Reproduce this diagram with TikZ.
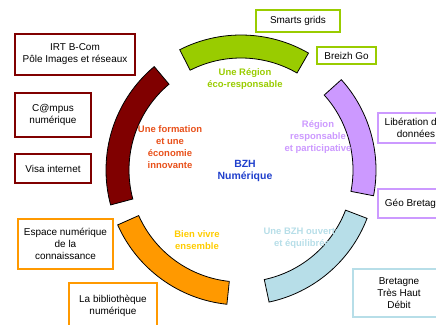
\documentclass[tikz,border=0pt]{standalone}
\usepackage{fontspec}
\setmainfont{Liberation Sans}
\usetikzlibrary{positioning}
\definecolor{bzhmaroon}{HTML}{800000}
\definecolor{bzhgreen}{HTML}{99CC00}
\definecolor{bzhpurple}{HTML}{CC99FF}
\definecolor{bzhteal}{HTML}{B7DEE8}
\definecolor{bzhorange}{HTML}{FF9900}
\definecolor{bzhred}{HTML}{E8501A}
\definecolor{bzhgold}{HTML}{FFCC00}
\definecolor{bzhblue}{HTML}{1F3FCC}
\newcommand\ringpart[2]{% start angle, end angle
  (#1:\outr) arc[start angle=#1, end angle=#2, radius=\outr]
  -- (#2:\inr) arc[start angle=#2, end angle=#1, radius=\inr] -- cycle
}

\begin{document}
\begin{tikzpicture}[x=1bp, y=1bp, font=\fontsize{10}{12}\selectfont]
  \tikzset{box/.style={draw=#1, line width=1.6bp, fill=white, align=center, inner sep=2bp}}
  \tikzset{theme/.style={text=#1, align=center, font=\fontsize{9.5}{12}\selectfont\bfseries}}
  \tikzset{part/.style={draw=black, line width=0.8bp, fill=#1}}

  \clip (0,0) rectangle (436,324);
  \def\outr{135}
  \def\inr{112}

  \coordinate (c) at (241,154);
  \begin{scope}[shift={(c)}]
    \draw[part=bzhgreen] \ringpart{60}{117};
    \draw[part=bzhmaroon] \ringpart{130}{195};
    \draw[part=bzhorange] \ringpart{204}{264};
    \draw[part=bzhteal] \ringpart{282}{339};
    \draw[part=bzhpurple] \ringpart{-11}{42};
  \end{scope}

  \node[text=bzhblue, align=center, font=\fontsize{10.5}{13}\selectfont\bfseries] (bzh) at (245,153) {BZH\\Numérique};
  \node[theme=bzhgreen] (eco) at (245,245) {Une Région\\éco-responsable};
  \node[theme=bzhpurple] (partic) at (318,187) {Région\\responsable\\et participative};
  \node[theme=bzhred] (formation) at (170,177) {Une formation\\et une\\économie\\innovante};
  \node[theme=bzhgold] (vivre) at (197,84) {Bien vivre\\ensemble};
  \node[theme=bzhteal] (ouverte) at (302,86) {Une BZH ouverte\\et équilibrée};

  % boxes
  \node[box=bzhmaroon, minimum width=120, minimum height=41] (irt) at (75,269.5) {IRT B-Com\\Pôle Images et réseaux};
  \node[box=bzhmaroon, minimum width=76, minimum height=44] (campus) at (53,209) {C@mpus\\numérique};
  \node[box=bzhmaroon, minimum width=76, minimum height=29] (visa) at (53,155.5) {Visa internet};
  \node[box=bzhorange, minimum width=95, minimum height=50] (espace) at (65.5,80) {Espace numérique\\de la\\connaissance};
  \node[box=bzhorange, minimum width=88, minimum height=46] (biblio) at (113,18) {La bibliothèque\\numérique};
  \node[box=bzhgreen, minimum width=84, minimum height=22] (grids) at (298,303) {Smarts grids};
  \node[box=bzhgreen, minimum width=59, minimum height=17] (breizh) at (346.5,268.5) {Breizh Go};
  \node[box=bzhpurple, minimum width=76, minimum height=30] (liberation) at (416,196) {Libération des\\données};
  \node[box=bzhpurple, minimum width=76, minimum height=29] (geo) at (416,120.5) {Géo Bretagne};
  \node[box=bzhteal, minimum width=92, minimum height=48] (thd) at (399,31) {Bretagne\\Très Haut\\Débit};

\end{tikzpicture}
\end{document}
